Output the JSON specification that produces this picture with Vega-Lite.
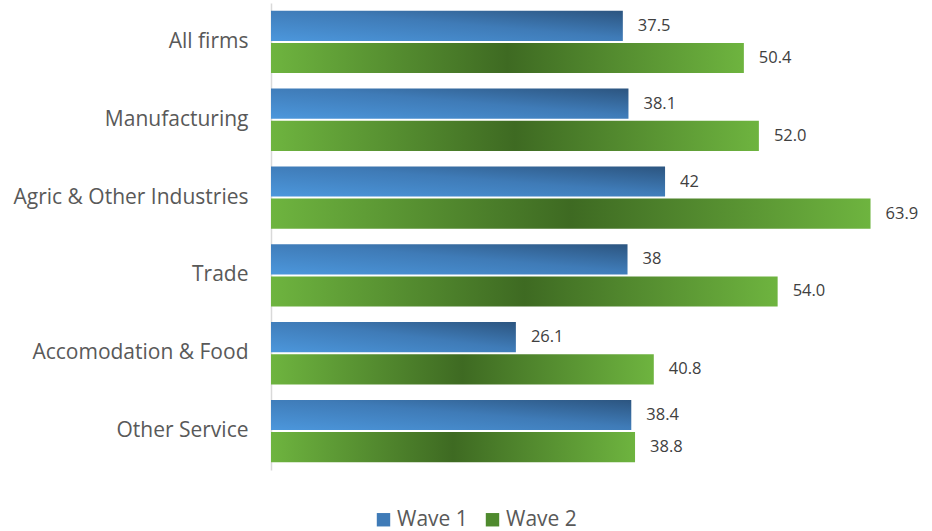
{
  "$schema": "https://vega.github.io/schema/vega-lite/v6.json",
  "width": 638,
  "height": 467,
  "padding": {"left": 0, "top": 3, "right": 5, "bottom": 5},
  "background": "white",
  "config": {
    "view": {"stroke": null},
    "font": "Open Sans",
    "text": {"font": "Open Sans"}
  },
  "data": {
    "values": [
      {"category": "All firms", "wave": "Wave 1", "value": 37.5, "label": "37.5"},
      {"category": "All firms", "wave": "Wave 2", "value": 50.4, "label": "50.4"},
      {"category": "Manufacturing", "wave": "Wave 1", "value": 38.1, "label": "38.1"},
      {"category": "Manufacturing", "wave": "Wave 2", "value": 52.0, "label": "52.0"},
      {"category": "Agric & Other Industries", "wave": "Wave 1", "value": 42, "label": "42"},
      {"category": "Agric & Other Industries", "wave": "Wave 2", "value": 63.9, "label": "63.9"},
      {"category": "Trade", "wave": "Wave 1", "value": 38, "label": "38"},
      {"category": "Trade", "wave": "Wave 2", "value": 54.0, "label": "54.0"},
      {"category": "Accomodation & Food", "wave": "Wave 1", "value": 26.1, "label": "26.1"},
      {"category": "Accomodation & Food", "wave": "Wave 2", "value": 40.8, "label": "40.8"},
      {"category": "Other Service", "wave": "Wave 1", "value": 38.4, "label": "38.4"},
      {"category": "Other Service", "wave": "Wave 2", "value": 38.8, "label": "38.8"}
    ]
  },
  "encoding": {
    "y": {
      "field": "category",
      "type": "nominal",
      "sort": null,
      "scale": {"paddingInner": 0.2, "paddingOuter": 0.1},
      "axis": {
        "title": null,
        "ticks": false,
        "domainColor": "#d9d9d9",
        "domainWidth": 1.5,
        "labelFont": "Open Sans",
        "labelFontSize": 21,
        "labelColor": "#595959",
        "labelPadding": 23,
        "labelLimit": 400,
        "minExtent": 271,
        "maxExtent": 271
      }
    },
    "yOffset": {
      "field": "wave",
      "type": "nominal",
      "scale": {"paddingInner": 0.06, "paddingOuter": 0}
    },
    "x": {
      "field": "value",
      "type": "quantitative",
      "scale": {"domain": [0, 68], "nice": false},
      "axis": null
    }
  },
  "layer": [
    {
      "mark": {"type": "point", "opacity": 0, "filled": true},
      "encoding": {
        "color": {
          "field": "wave",
          "type": "nominal",
          "scale": {"domain": ["Wave 1", "Wave 2"], "range": ["#3f7bb7", "#4f8a2e"]},
          "legend": {
            "title": null,
            "orient": "none",
            "direction": "horizontal",
            "legendX": 102,
            "legendY": 506,
            "symbolType": "square",
            "symbolSize": 180,
            "symbolOpacity": 1,
            "symbolStrokeWidth": 0,
            "labelFont": "Open Sans",
            "labelFontSize": 21,
            "labelColor": "#595959",
            "columnPadding": 14,
            "labelOffset": 3
          }
        }
      }
    },
    {
      "mark": {"type": "bar", "cornerRadius": 0},
      "encoding": {
        "color": {
          "condition": {
            "test": "datum.wave === 'Wave 1'",
            "value": {"gradient": "linear", "x1": 0, "y1": 1, "x2": 1, "y2": 0,
              "stops": [{"offset": 0, "color": "#4c97dc"}, {"offset": 0.55, "color": "#3f7bb7"}, {"offset": 1, "color": "#2c5580"}]}
          },
          "value": {"gradient": "linear", "x1": 0, "y1": 0, "x2": 1, "y2": 0,
            "stops": [{"offset": 0, "color": "#6eb43f"}, {"offset": 0.5, "color": "#3e6a22"}, {"offset": 1, "color": "#6eb43f"}]}
        }
      }
    },
    {
      "mark": {"type": "text", "align": "left", "baseline": "middle", "dx": 15, "fontSize": 16.5, "color": "#404040", "font": "Open Sans"},
      "encoding": {
        "text": {"field": "label", "type": "nominal"}
      }
    }
  ]
}
